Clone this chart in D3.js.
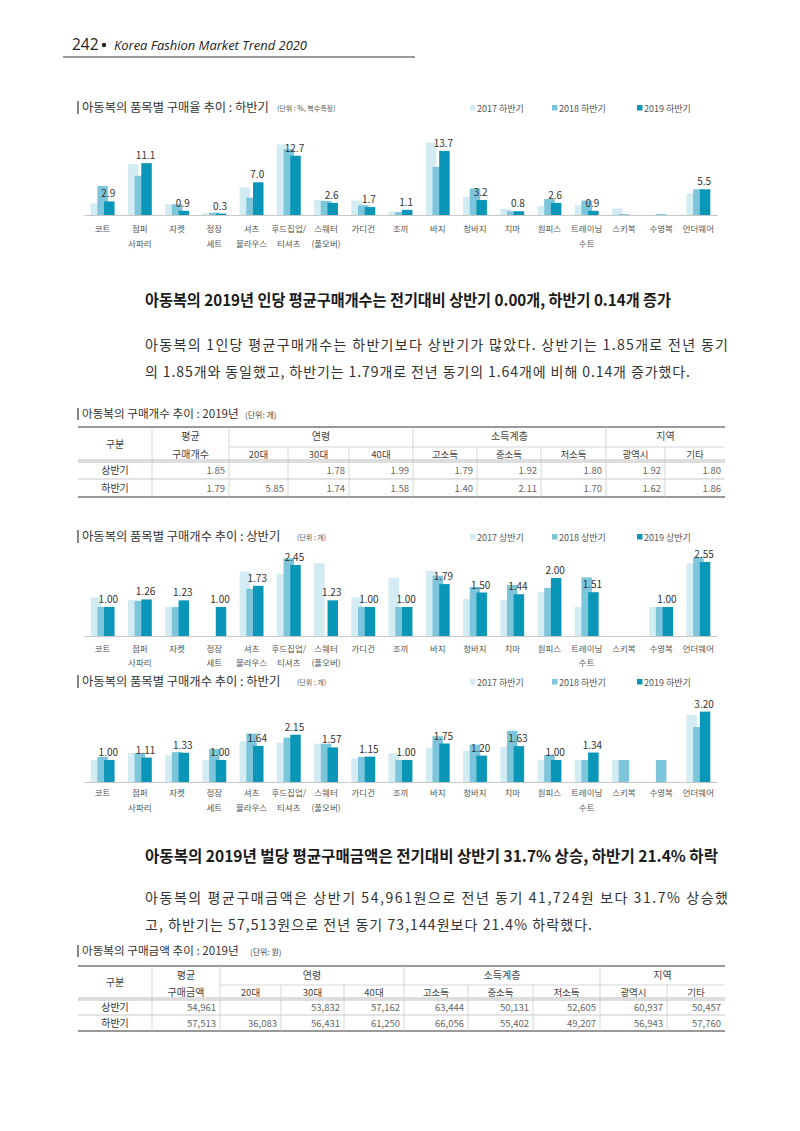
<!DOCTYPE html>
<html><head><meta charset="utf-8">
<script src="https://cdn.jsdelivr.net/npm/d3@7"></script>
<style>body{margin:0;background:#fff}</style>
</head><body>
<script>
// ---------- DATA ----------
const categories = ["코트","점퍼\n사파리","자켓","정장\n세트","셔츠\n블라우스","후드집업/\n티셔츠","스웨터\n(풀오버)","가디건","조끼","바지","청바지","치마","원피스","트레이닝\n수트","스키복","수영복","언더웨어"];

const rate2017H2 = [2.5,10.9,2.3,0.4,5.9,15.1,3.2,3.1,0.7,15.5,3.9,1.3,1.9,2.1,1.4,null,4.6];
const rate2018H2 = [6.2,8.4,2.3,0.5,3.7,14.1,3.0,2.1,0.6,10.3,5.7,0.8,3.4,3.1,0.2,0.2,5.5];
const rate2019H2 = [2.9,11.1,0.9,0.3,7.0,12.7,2.6,1.7,1.1,13.7,3.2,0.8,2.6,0.9,null,null,5.5];

const count2017H1 = [1.33,1.24,1.00,null,2.22,2.14,2.51,1.33,2.01,2.25,1.28,1.24,1.52,1.00,null,1.00,2.51];
const count2018H1 = [1.00,1.21,1.00,null,1.63,2.68,null,1.00,1.00,2.08,1.69,1.76,1.66,2.02,null,1.00,2.72];
const count2019H1 = [1.00,1.26,1.23,1.00,1.73,2.45,1.23,1.00,1.00,1.79,1.50,1.44,2.00,1.51,null,1.00,2.55];

const count2017H2 = [1.00,1.32,1.21,1.00,1.85,1.79,1.74,1.08,1.30,1.56,1.42,1.59,1.00,1.00,1.00,null,3.06];
const count2018H2 = [1.14,1.32,1.36,1.50,2.20,2.02,1.74,1.14,1.00,2.08,1.70,2.33,1.24,1.00,1.00,1.00,2.50];
const count2019H2 = [1.00,1.11,1.33,1.00,1.64,2.15,1.57,1.15,1.00,1.75,1.20,1.63,1.00,1.34,null,null,3.20];

const legendH1 = ["2017 상반기","2018 상반기","2019 상반기"];
const legendH2 = ["2017 하반기","2018 하반기","2019 하반기"];

const tableGroups = ["연령","소득계층","지역"];
const tableSubCols = ["20대","30대","40대","고소득","중소득","저소득","광역시","기타"];
const tableRows = ["상반기","하반기"];

const countAvg = [1.85,1.79];
const countH1 = [null,1.78,1.99,1.79,1.92,1.80,1.92,1.80];
const countH2 = [5.85,1.74,1.58,1.40,2.11,1.70,1.62,1.86];

const amountAvg = [54961,57513];
const amountH1 = [null,53832,57162,63444,50131,52605,60937,50457];
const amountH2 = [36083,56431,61250,66056,55402,49207,56943,57760];

// ---------- DRAW ----------
const W = 800, H = 1131;
const colors = ["#d3ecf4","#7dc5da","#0a97b7"];
const FONT = "'Noto Sans CJK KR','Noto Sans',sans-serif";
const svg = d3.select("body").append("svg").attr("width",W).attr("height",H)
  .style("font-family",FONT);

// page header
const hdr = svg.append("g");
hdr.append("text").attr("x",72).attr("y",50).attr("font-size",15.5).attr("fill","#222")
  .attr("font-family","'Open Sans',sans-serif").text("242");
hdr.append("circle").attr("cx",104).attr("cy",45).attr("r",2.2).attr("fill","#222");
hdr.append("text").attr("x",114).attr("y",50).attr("font-size",12.5).attr("fill","#222")
  .attr("font-style","italic").attr("font-family","'Open Sans',sans-serif")
  .attr("textLength",193).attr("lengthAdjust","spacingAndGlyphs")
  .text("Korea Fashion Market Trend 2020");
hdr.append("line").attr("x1",63).attr("x2",415).attr("y1",57).attr("y2",57)
  .attr("stroke","#777").attr("stroke-width",1.3);

function titleBar(g,x,y,h){
  g.append("line").attr("x1",x).attr("x2",x).attr("y1",y-h).attr("y2",y+2)
    .attr("stroke","#333").attr("stroke-width",1.2);
}

function drawChart(cfg){
  const g = svg.append("g");
  const x = d3.scaleBand().domain(categories.map((c,i)=>i)).range([84,717]);
  const y = d3.scaleLinear().domain([0,cfg.maxV]).range([cfg.base, cfg.base - cfg.maxV*cfg.unitPx]);
  const bw = 10.5, off = 6.7;
  // title
  titleBar(g,78,cfg.titleY,11);
  g.append("text").attr("x",82).attr("y",cfg.titleY).attr("font-size",12.3).attr("fill","#333")
    .text(cfg.title);
  g.append("text").attr("x",cfg.unitX).attr("y",cfg.titleY-1).attr("font-size",7).attr("fill","#555")
    .text(cfg.unit);
  // legend
  const lx = [470,552,637];
  cfg.legend.forEach((t,i)=>{
    g.append("rect").attr("x",lx[i]).attr("y",cfg.titleY-7).attr("width",5.5).attr("height",5.5).attr("fill",colors[i]);
    g.append("text").attr("x",lx[i]+7).attr("y",cfg.titleY).attr("font-size",9).attr("fill","#555").text(t);
  });
  // bars
  cfg.series.forEach((s,si)=>{
    g.append("g").selectAll("rect").data(s.map((v,i)=>({v,i})).filter(d=>d.v!=null))
      .join("rect")
      .attr("x",d=>x(d.i)+x.bandwidth()/2 + (si-1)*off - bw/2)
      .attr("y",d=>y(d.v)).attr("width",bw).attr("height",d=>cfg.base-y(d.v))
      .attr("fill",colors[si]);
  });
  // axis
  const ax = g.append("g").attr("transform",`translate(0,${cfg.base})`)
    .call(d3.axisBottom(x).tickSize(0).tickFormat(""));
  ax.select(".domain").attr("stroke","#c8c8c8").attr("stroke-width",1.2);
  // category labels
  categories.forEach((c,i)=>{
    const lines = c.split("\n");
    const t = g.append("text").attr("text-anchor","middle").attr("font-size",8.5).attr("fill","#555");
    lines.forEach((ln,li)=>{
      t.append("tspan").attr("x",x(i)+x.bandwidth()/2).attr("y",cfg.base+cfg.lblOff+li*cfg.lblGap).text(ln);
    });
  });
  // value labels on last series
  const last = cfg.series[2];
  g.append("g").selectAll("text").data(last.map((v,i)=>({v,i})).filter(d=>d.v!=null))
    .join("text").attr("text-anchor","middle")
    .attr("x",d=>x(d.i)+x.bandwidth()/2 + off - 1)
    .attr("y",d=>y(d.v)-4).attr("font-size",10).attr("fill","#333")
    .text(d=>d3.format(cfg.fmt)(d.v));
}

drawChart({title:"아동복의 품목별 구매율 추이 : 하반기", unit:"(단위 : %, 복수측정)", unitX:277, titleY:112,
  legend:legendH2, base:215, unitPx:4.67, maxV:16, series:[rate2017H2,rate2018H2,rate2019H2], fmt:".1f", lblOff:17, lblGap:15});
drawChart({title:"아동복의 품목별 구매개수 추이 : 상반기", unit:"(단위 : 개)", unitX:297, titleY:541,
  legend:legendH1, base:636, unitPx:29, maxV:2.9, series:[count2017H1,count2018H1,count2019H1], fmt:".2f", lblOff:16, lblGap:14});
drawChart({title:"아동복의 품목별 구매개수 추이 : 하반기", unit:"(단위 : 개)", unitX:297, titleY:686,
  legend:legendH2, base:782, unitPx:22, maxV:3.4, series:[count2017H2,count2018H2,count2019H2], fmt:".2f", lblOff:14, lblGap:15});

// text blocks
function heading(txt,y,len){
  svg.append("text").attr("x",145).attr("y",y).attr("font-size",15.5).attr("font-weight",700).attr("fill","#1a1a1a")
    .attr("textLength",len).attr("lengthAdjust","spacingAndGlyphs").text(txt);
}
function para(txt,y,len){
  const t = svg.append("text").attr("x",145).attr("y",y).attr("font-size",14).attr("fill","#333").text(txt);
  if(len) t.attr("textLength",len).attr("lengthAdjust","spacing");
}
heading("아동복의 2019년 인당 평균구매개수는 전기대비 상반기 0.00개, 하반기 0.14개 증가",306,526);
para("아동복의 1인당 평균구매개수는 하반기보다 상반기가 많았다. 상반기는 1.85개로 전년 동기",350,583);
para("의 1.85개와 동일했고, 하반기는 1.79개로 전년 동기의 1.64개에 비해 0.14개 증가했다.",377,545);
heading("아동복의 2019년 벌당 평균구매금액은 전기대비 상반기 31.7% 상승, 하반기 21.4% 하락",862,573);
para("아동복의 평균구매금액은 상반기 54,961원으로 전년 동기 41,724원 보다 31.7% 상승했",903,583);
para("고, 하반기는 57,513원으로 전년 동기 73,144원보다 21.4% 하락했다.",930,447);

// tables
function drawTable(cfg){
  const g = svg.append("g");
  const cx = cfg.cols, r = cfg.rows;
  titleBar(g,78,cfg.titleY,10);
  g.append("text").attr("x",82).attr("y",cfg.titleY).attr("font-size",11.6).attr("fill","#333").text(cfg.title);
  g.append("text").attr("x",cfg.unitX).attr("y",cfg.titleY).attr("font-size",8).attr("fill","#444").text(cfg.unit);
  const L = cx[0], R = cx[cx.length-1];
  // horizontal rules
  g.append("line").attr("x1",L).attr("x2",R).attr("y1",r[0]).attr("y2",r[0]).attr("stroke","#999").attr("stroke-width",2);
  g.append("line").attr("x1",cx[2]).attr("x2",R).attr("y1",r[1]).attr("y2",r[1]).attr("stroke","#ccc").attr("stroke-width",0.8);
  g.append("line").attr("x1",L).attr("x2",R).attr("y1",r[2]-1).attr("y2",r[2]-1).attr("stroke","#aaa").attr("stroke-width",0.8);
  g.append("line").attr("x1",L).attr("x2",R).attr("y1",r[2]+1).attr("y2",r[2]+1).attr("stroke","#aaa").attr("stroke-width",0.8);
  g.append("line").attr("x1",L).attr("x2",R).attr("y1",r[3]).attr("y2",r[3]).attr("stroke","#bbb").attr("stroke-width",0.8);
  g.append("line").attr("x1",L).attr("x2",R).attr("y1",r[4]).attr("y2",r[4]).attr("stroke","#999").attr("stroke-width",2);
  // verticals
  const groupEdges = [2,5,8];
  cx.slice(1,-1).forEach((xv,k)=>{
    const idx = k+1;
    const top = (idx===1||groupEdges.includes(idx)) ? r[0] : r[1];
    g.append("line").attr("x1",xv).attr("x2",xv).attr("y1",top).attr("y2",r[4]).attr("stroke","#ccc").attr("stroke-width",0.8);
  });
  const mid = (a,b)=>(a+b)/2;
  const hs = {"font-size":10,"fill":"#444","text-anchor":"middle"};
  const T = (x,y,txt,attrs)=>{const t=g.append("text").attr("x",x).attr("y",y).text(txt); Object.entries(attrs).forEach(([k,v])=>t.attr(k,v)); return t;};
  T(mid(cx[0],cx[1]), mid(r[0],r[2])+3.5, "구분", hs);
  T(mid(cx[1],cx[2]), r[0]+13, "평균", hs);
  T(mid(cx[1],cx[2]), r[1]+11, cfg.avgLabel, hs);
  T(mid(cx[2],cx[5]), r[0]+13, tableGroups[0], hs);
  T(mid(cx[5],cx[8]), r[0]+13, tableGroups[1], hs);
  T(mid(cx[8],cx[10]), r[0]+13, tableGroups[2], hs);
  tableSubCols.forEach((s,i)=>T(mid(cx[i+2],cx[i+3]), r[1]+11, s, Object.assign({},hs,{"font-size":9.5})));
  const rowsData = [[cfg.avg[0],...cfg.h1],[cfg.avg[1],...cfg.h2]];
  tableRows.forEach((rn,ri)=>{
    const yy = (ri===0? mid(r[2],r[3]) : mid(r[3],r[4])) + 3.5;
    T(mid(cx[0],cx[1]), yy, rn, {"font-size":10,"fill":"#333","text-anchor":"middle"});
    rowsData[ri].forEach((v,ci)=>{
      if(v==null) return;
      T(cx[ci+2]-4, yy, d3.format(cfg.fmt)(v), {"font-size":9.5,"fill":"#666","text-anchor":"end"});
    });
  });
}
drawTable({title:"아동복의 구매개수 추이 : 2019년", unit:"(단위: 개)", unitX:245, titleY:418,
  cols:[78,152,229,288,349,413,477,541,606,665,725], rows:[427,447,461,479,497],
  avgLabel:"구매개수", avg:countAvg, h1:countH1, h2:countH2, fmt:".2f"});
drawTable({title:"아동복의 구매금액 추이 : 2019년", unit:"(단위: 원)", unitX:250, titleY:955,
  cols:[78,152,220,281,344,404,468,533,600,667,725], rows:[966,985,999,1015,1031],
  avgLabel:"구매금액", avg:amountAvg, h1:amountH1, h2:amountH2, fmt:","});
</script>
</body></html>
